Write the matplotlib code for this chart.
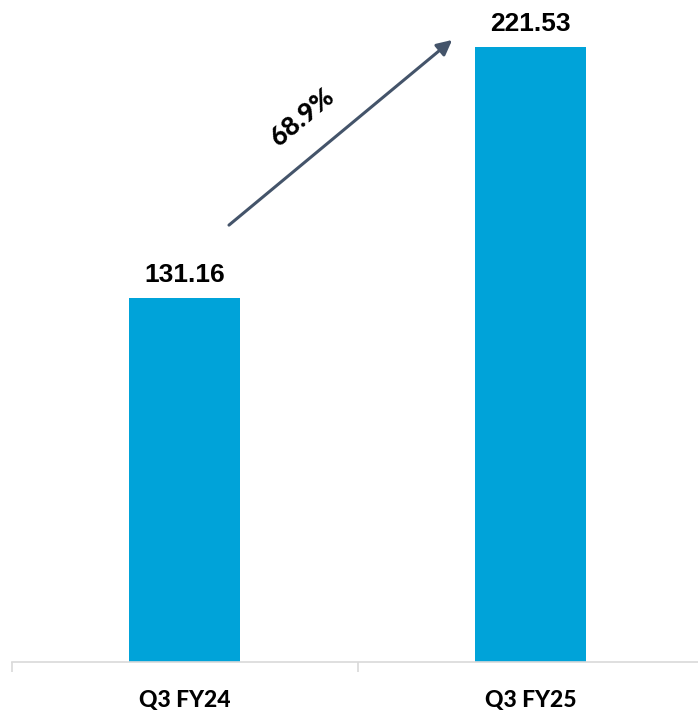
import matplotlib.pyplot as plt

# values
quarters = ['Q3 FY24', 'Q3 FY25']
values = [131.16, 221.53]
growth_label = '68.9%'

fig = plt.figure(figsize=(6.98, 7.17), dpi=100)
ax = fig.add_axes([12 / 698, 1 - 662 / 717, 691 / 698, 662 / 717])

x = range(len(quarters))
bars = ax.bar(x, values, width=0.32, color='#00A3D9')

ax.set_xlim(-0.5, 1.5)
ax.set_ylim(0, 238.5)

for b, v in zip(bars, values):
    ax.text(b.get_x() + b.get_width() / 2, v + 4, f'{v:.2f}', ha='center', va='bottom',
            fontsize=19, fontweight='bold', family='Liberation Sans')

# growth arrow
ax.annotate('', xy=(0.774, 224.1), xytext=(0.128, 157.4),
            arrowprops=dict(arrowstyle='-|>,head_length=0.9,head_width=0.45',
                            color='#44546A', lw=2.2, shrinkA=0, shrinkB=0))
ax.text(0.34, 196.5, growth_label, rotation=40, ha='center', va='center',
        fontsize=19, fontweight='black', family='Lato', rotation_mode='anchor')

for s in ['top', 'right', 'left']:
    ax.spines[s].set_visible(False)
ax.spines['bottom'].set_color('#D9D9D9')
ax.spines['bottom'].set_linewidth(1.2)
ax.set_yticks([])
ax.set_xticks(list(x))
ax.set_xticklabels(quarters, fontsize=16.5, fontweight='black', family='Lato')
ax.tick_params(axis='x', which='major', length=0, pad=20)
ax.set_xticks([-0.5, 0.5, 1.5], minor=True)
ax.tick_params(axis='x', which='minor', length=7, color='#D9D9D9', width=1.2)

fig.savefig('out.png', dpi=100)
